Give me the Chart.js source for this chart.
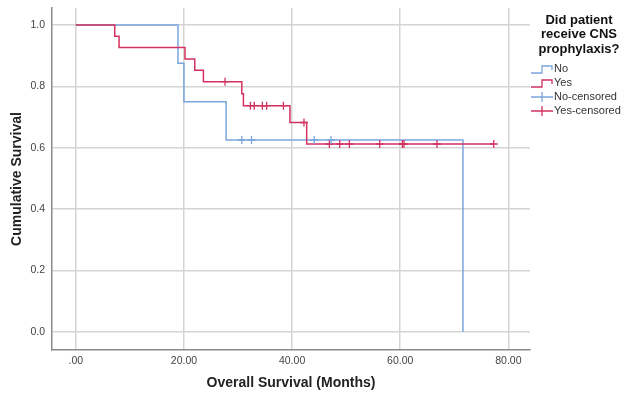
<!DOCTYPE html>
<html>
<head>
<meta charset="utf-8">
<script src="https://cdn.jsdelivr.net/npm/chart.js@4/dist/chart.umd.min.js"></script>
<style>
  html, body { margin: 0; padding: 0; background: #fff; }
  #wrap { width: 628px; height: 399px; }
</style>
</head>
<body>
<div id="wrap"><canvas id="kmChart" width="628" height="399"></canvas></div>
<script>
// Kaplan-Meier steps
var noTime = [0, 18.9, 20.0, 27.8, 71.6];
var noSurv = [1.0, 0.875, 0.75, 0.625, 0.0];
var yesTime = [0, 7.2, 8.0, 20.2, 22.0, 23.6, 30.7, 31.0, 39.6, 42.7, 77.3];
var yesSurv = [1.0, 0.963, 0.926, 0.889, 0.852, 0.815, 0.776, 0.737, 0.682, 0.612, 0.612];

// censored cases
var noCensTime = [30.7, 32.5, 44.1, 47.2];
var noCensSurv = [0.625, 0.625, 0.625, 0.625];
var yesCensTime = [27.6, 32.3, 33.0, 34.5, 35.3, 38.4, 42.2, 46.9, 48.8, 50.6, 56.2, 60.4, 60.7, 66.8, 77.3];
var yesCensSurv = [0.815, 0.737, 0.737, 0.737, 0.737, 0.737, 0.682, 0.612, 0.612, 0.612, 0.612, 0.612, 0.612, 0.612, 0.612];

var xTicks = [0, 20, 40, 60, 80];
var yTicks = [0, 0.2, 0.4, 0.6, 0.8, 1.0];

var blue = "#7ba6dc";
var red = "#d23260";
var font = "'Liberation Sans', Arial, sans-serif";

function pts(xs, ys) {
  return xs.map(function (x, i) { return {x: x, y: ys[i]}; });
}

// legend on the right, drawn by hand (multi-line bold title)
var sideLegend = {
  id: "sideLegend",
  afterDraw: function (chart) {
    var ctx = chart.ctx;
    ctx.save();
    ctx.fillStyle = "#111";
    ctx.font = "bold 13px " + font;
    ctx.textAlign = "center";
    ctx.textBaseline = "middle";
    ["Did patient", "receive CNS", "prophylaxis?"].forEach(function (t, i) {
      ctx.fillText(t, 579, 20 + i * 14.5);
    });
    var items = [
      {label: "No", color: blue, type: "step"},
      {label: "Yes", color: red, type: "step"},
      {label: "No-censored", color: blue, type: "cens"},
      {label: "Yes-censored", color: red, type: "cens"}
    ];
    ctx.font = "11px " + font;
    ctx.textAlign = "left";
    items.forEach(function (it, i) {
      var y = 69 + i * 14;
      ctx.strokeStyle = it.color;
      ctx.lineWidth = 1.3;
      ctx.beginPath();
      if (it.type === "step") {
        ctx.moveTo(531, y + 4);
        ctx.lineTo(542, y + 4);
        ctx.lineTo(542, y - 3);
        ctx.lineTo(552, y - 3);
        ctx.lineTo(552, y + 1);
      } else {
        ctx.moveTo(531, y);
        ctx.lineTo(553, y);
        ctx.moveTo(542, y - 5);
        ctx.lineTo(542, y + 5);
      }
      ctx.stroke();
      ctx.fillStyle = "#333";
      ctx.fillText(it.label, 554, y);
    });
    ctx.restore();
  }
};

new Chart("kmChart", {
  type: "line",
  data: {
    datasets: [{
      label: "No",
      data: pts(noTime, noSurv),
      stepped: "before",
      borderColor: blue,
      borderWidth: 1.5,
      pointRadius: 0,
      fill: false,
      order: 2
    }, {
      label: "Yes",
      data: pts(yesTime, yesSurv),
      stepped: "before",
      borderColor: red,
      borderWidth: 1.5,
      pointRadius: 0,
      fill: false,
      order: 1
    }, {
      label: "No-censored",
      type: "scatter",
      data: pts(noCensTime, noCensSurv),
      pointStyle: "cross",
      pointRadius: 4,
      borderColor: blue,
      borderWidth: 1.3,
      order: 0
    }, {
      label: "Yes-censored",
      type: "scatter",
      data: pts(yesCensTime, yesCensSurv),
      pointStyle: "cross",
      pointRadius: 4,
      borderColor: red,
      borderWidth: 1.3,
      order: 0
    }]
  },
  options: {
    responsive: false,
    animation: false,
    layout: {padding: {left: 0, right: 98, top: 8, bottom: 0}},
    plugins: {
      legend: {display: false},
      tooltip: {enabled: false}
    },
    scales: {
      x: {
        type: "linear",
        min: -4.4,
        max: 84,
        afterBuildTicks: function (s) { s.ticks = xTicks.map(function (v) { return {value: v}; }); },
        afterFit: function (s) { s.height = 49; s.paddingLeft = 0; s.paddingRight = 0; },
        grid: {color: "#d4d4d4", lineWidth: 1.5, drawTicks: false},
        border: {color: "#8a8a8a", width: 1.5},
        ticks: {
          padding: 5,
          color: "#444",
          font: {family: font, size: 10.5},
          callback: function (v) { return v === 0 ? ".00" : v.toFixed(2); }
        },
        title: {
          display: true,
          text: "Overall Survival (Months)",
          color: "#222",
          font: {family: font, size: 14, weight: "bold"},
          padding: {top: 0, bottom: 7}
        }
      },
      y: {
        min: -0.059,
        max: 1.055,
        afterBuildTicks: function (s) { s.ticks = yTicks.map(function (v) { return {value: v}; }); },
        afterFit: function (s) { s.width = 52; s.paddingTop = 0; s.paddingBottom = 0; },
        grid: {color: "#d4d4d4", lineWidth: 1.5, drawTicks: false},
        border: {color: "#8a8a8a", width: 1.5},
        ticks: {
          padding: 7,
          color: "#444",
          font: {family: font, size: 10.5},
          callback: function (v) { return v.toFixed(1); }
        },
        title: {
          display: true,
          text: "Cumulative Survival",
          color: "#222",
          font: {family: font, size: 14, weight: "bold"},
          padding: {top: 9, bottom: 0}
        }
      }
    }
  },
  plugins: [sideLegend]
});
</script>
</body>
</html>
